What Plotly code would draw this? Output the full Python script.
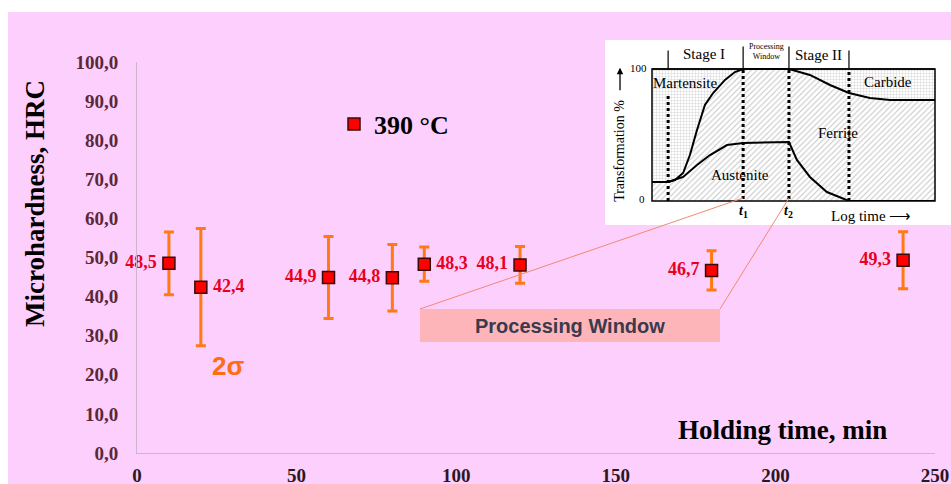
import plotly.graph_objects as go

# ---------------- main data ----------------
holding_time = [10, 20, 60, 80, 90, 120, 180, 240]
hardness = [48.5, 42.4, 44.9, 44.8, 48.3, 48.1, 46.7, 49.3]
two_sigma = [8.0, 15.0, 10.5, 8.5, 4.4, 4.7, 5.0, 7.3]
label_side = ["middle left", "middle right", "middle left", "middle left",
              "middle right", "middle left", "middle left", "middle left"]
x_ticks = [0, 50, 100, 150, 200, 250]
y_ticks = [0, 10, 20, 30, 40, 50, 60, 70, 80, 90, 100]
series_name = "390 °C"

# ---------------- inset diagram data (log time units 0-10, %) ----------------
top_u = [0, 0.57, 0.81, 1.10, 1.34, 1.59, 1.87, 2.16, 2.58, 2.93, 3.22, 4.84,
         5.58, 6.29, 6.96, 7.70, 8.41, 10]
top_pct = [14.4, 14.4, 15.9, 21.2, 34.8, 53.8, 72.7, 81.8, 91.7, 97.7, 100, 100,
           95.5, 87.9, 81.8, 78.0, 76.5, 76.5]
aus_u = [0.57, 1.10, 1.59, 2.05, 2.65, 3.22, 4.84, 5.12, 5.58, 6.18, 6.96, 10]
aus_pct = [14.4, 18.2, 27.3, 34.8, 42.4, 43.9, 44.7, 31.1, 18.2, 6.8, 0, 0]
full_u = [0, 10]
full_pct = [100, 100]
divider_u = [0.57, 3.22, 4.84, 6.96]
divider_top = [80, 100, 100, 100]
divider_bottom = [0, -3, -3, 0]
stub_top = [114, 117, 117, 114]

W, H = 951, 484
ML, MR, MT, MB = 137, 16, 20, 31
PW, PH = W - ML - MR, H - MT - MB

# inset frame in pixels
IX0, IX1, IY0, IY1 = 652, 935, 201, 69


def px(x):
    return (x - ML) / PW


def py(y):
    return (H - MB - y) / PH


def ix(u):
    return px(IX0 + u * (IX1 - IX0) / 10)


def iy(p):
    return py(IY0 - p * (IY0 - IY1) / 100)


serif = "Liberation Serif"
sans = "Liberation Sans"


def fmt(v, side):
    s = f"{v:.1f}".replace(".", ",")
    return s + "\u2009" if "left" in side else "\u2009" + s


fig = go.Figure()

# main series
fig.add_trace(go.Scatter(
    x=holding_time, y=hardness, name=series_name,
    mode="markers+text",
    marker=dict(symbol="square", size=12, color="#ff0000",
                line=dict(color="#3a0a0a", width=1.5)),
    error_y=dict(type="data", array=two_sigma, visible=True,
                 color="#ff7a14", thickness=3, width=5),
    text=[fmt(v, s) for v, s in zip(hardness, label_side)],
    textposition=label_side,
    textfont=dict(family=serif, size=18, color="#e8001e", weight="bold"),
    cliponaxis=False,
    showlegend=True,
))

# inset fills and curves
fig.add_trace(go.Scatter(
    x=top_u, y=top_pct, mode="lines", xaxis="x2", yaxis="y2",
    line=dict(color="black", width=2), fill="tozeroy",
    fillpattern=dict(shape="/", fgcolor="#8c8c8c", bgcolor="white", size=4, solidity=0.25),
    showlegend=False, hoverinfo="skip"))
fig.add_trace(go.Scatter(
    x=full_u, y=full_pct, mode="lines", xaxis="x2", yaxis="y2",
    line=dict(color="black", width=1.5), fill="tonexty",
    fillpattern=dict(shape="+", fgcolor="#a8a8a8", bgcolor="white", size=3, solidity=0.3),
    showlegend=False, hoverinfo="skip"))
fig.add_trace(go.Scatter(
    x=aus_u, y=aus_pct, mode="lines", xaxis="x2", yaxis="y2",
    line=dict(color="black", width=2),
    showlegend=False, hoverinfo="skip"))
for u, t, b, s in zip(divider_u, divider_top, divider_bottom, stub_top):
    fig.add_trace(go.Scatter(
        x=[u, u], y=[b, t], mode="lines", xaxis="x2", yaxis="y2",
        line=dict(color="black", width=3, dash="dot"),
        showlegend=False, hoverinfo="skip"))
    fig.add_trace(go.Scatter(
        x=[u, u], y=[100, s], mode="lines", xaxis="x2", yaxis="y2",
        line=dict(color="black", width=1.2),
        showlegend=False, hoverinfo="skip"))

shapes = [
    dict(type="rect", xref="paper", yref="paper", x0=px(8), x1=px(960), y0=py(500), y1=py(12),
         fillcolor="#fccffc", line=dict(width=0), layer="below"),
    dict(type="rect", xref="paper", yref="paper", x0=px(605), x1=px(960), y0=py(225), y1=py(40),
         fillcolor="white", line=dict(width=0), layer="below"),
    dict(type="rect", xref="paper", yref="paper", x0=px(IX0), x1=px(IX1), y0=py(IY0), y1=py(IY1),
         line=dict(color="black", width=1.5), fillcolor="rgba(0,0,0,0)", layer="above"),
    dict(type="rect", xref="paper", yref="paper", x0=px(420), x1=px(720), y0=py(342), y1=py(309),
         fillcolor="#fdb5b9", line=dict(width=0), layer="above"),
    dict(type="line", xref="paper", yref="paper", x0=px(420), y0=py(309), x1=px(743), y1=py(198),
         line=dict(color="#f08a70", width=1), layer="above"),
    dict(type="line", xref="paper", yref="paper", x0=px(720), y0=py(309), x1=px(789), y1=py(198),
         line=dict(color="#f08a70", width=1), layer="above"),
]

ann = []
def a(text, x, y, size, family=serif, color="black", weight="normal",
      angle=0, xanchor="center"):
    ann.append(dict(text=text, x=x, y=y, xref="paper", yref="paper", showarrow=False,
                    font=dict(family=family, size=size, color=color, weight=weight),
                    textangle=angle, xanchor=xanchor, yanchor="middle"))

a("Stage I", ix(1.84), iy(111.4), 15)
a("Processing<br>Window", ix(4.03), iy(113.5), 8)
a("Stage II", ix(5.87), iy(110.6), 15)
a("Martensite", ix(1.17), iy(89.4), 15)
a("Carbide", ix(8.34), iy(90.2), 15)
a("Ferrite", ix(6.57), iy(51.5), 15)
a("Austenite", ix(3.11), iy(19.7), 15)
a("100", ix(-0.49), iy(100.8), 11)
a("0", ix(-0.35), iy(1.5), 11)
a("<i>t</i><sub>1</sub>", ix(3.22), iy(-8.3), 14, weight="bold")
a("<i>t</i><sub>2</sub>", ix(4.84), iy(-8.3), 14, weight="bold")
a("Log time ⟶", ix(7.75), iy(-11.4), 15)
a("Transformation %", ix(-1.13), iy(38), 14, angle=-90)
ann.append(dict(x=ix(-1.13), y=iy(101), xref="paper", yref="paper", ax=0, ay=24, text="",
                showarrow=True, arrowhead=2, arrowsize=1, arrowwidth=1.3, arrowcolor="black"))

a("2σ", px(228), py(366), 26, family=sans, color="#ff6d12", weight="bold")
a("Processing Window", px(570), py(326), 20, family=sans, color="#3a3a4c", weight="bold")
a("Holding time, min", px(782), py(430), 27, weight="bold")
a("Microhardness, HRC", px(35), py(204), 27, weight="bold", angle=-90)

fig.update_layout(
    width=W, height=H,
    margin=dict(l=ML, r=MR, t=MT, b=MB, autoexpand=False),
    paper_bgcolor="white", plot_bgcolor="rgba(0,0,0,0)",
    shapes=shapes, annotations=ann,
    showlegend=True,
    legend=dict(x=px(334), y=py(124), xanchor="left", yanchor="middle",
                bgcolor="rgba(0,0,0,0)",
                font=dict(family=serif, size=26, color="black", weight="bold")),
    xaxis=dict(range=[0, 250], tickvals=x_ticks, ticktext=[str(v) for v in x_ticks],
               showline=True, linecolor="#cbb6cb", linewidth=1, showgrid=False, zeroline=False,
               ticks="", ticklabelstandoff=5, automargin=False,
               tickfont=dict(family=serif, size=19, color="#2a1820", weight="bold"),
               anchor="y"),
    yaxis=dict(range=[0, 100], domain=[0, py(62)], tickvals=y_ticks,
               ticktext=[f"{v:.1f}".replace(".", ",") for v in y_ticks],
               showline=True, linecolor="#cbb6cb", linewidth=1, showgrid=False, zeroline=False,
               ticks="", ticklabelstandoff=14, automargin=False,
               tickfont=dict(family=serif, size=19, color="#5a2838", weight="bold"),
               anchor="x"),
    xaxis2=dict(domain=[px(IX0), px(IX1)], range=[0, 10], visible=False, anchor="y2",
                automargin=False),
    yaxis2=dict(domain=[py(201), py(45)], range=[0, 118.18], visible=False, anchor="x2",
                automargin=False),
)

fig.write_html("out.html")
